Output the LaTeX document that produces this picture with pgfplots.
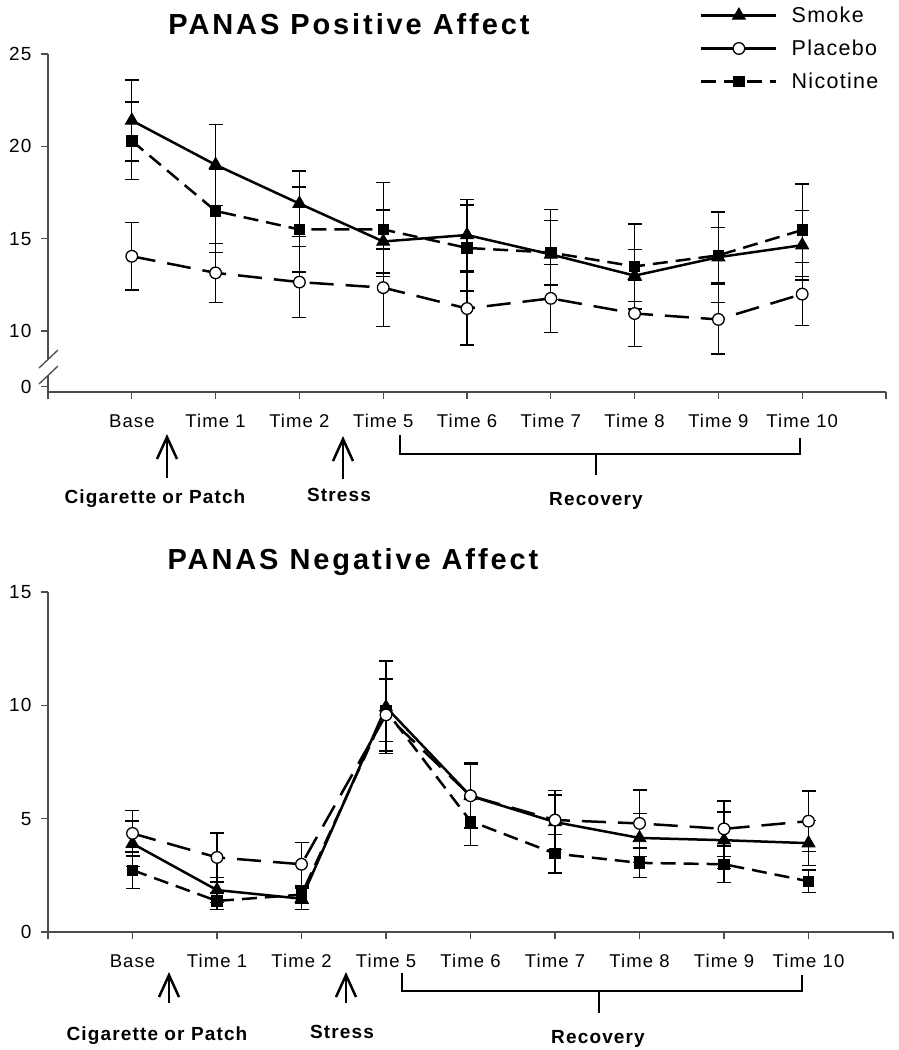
\documentclass[border=0pt]{standalone}
\usepackage{pgfplots}
\pgfplotsset{compat=1.18}
\usepackage{pgfplotstable}
\usepackage{fontspec}
\setmainfont{Liberation Sans}[LetterSpace=6]
\usetikzlibrary{arrows.meta}
\newcommand\fs[1]{\fontsize{#1}{#1}\selectfont}

\pgfplotstableread{
x y e
0 21.4 2.2
1 19.0 2.2
2 16.9 1.77
3 14.85 1.7
4 15.2 1.92
5 14.15 2.45
6 13.0 1.4
7 14.0 2.45
8 14.65 1.88
}\posSmoke
\pgfplotstableread{
x y e
0 14.05 1.82
1 13.15 1.6
2 12.65 1.91
3 12.35 2.1
4 11.22 1.98
5 11.77 1.84
6 10.95 1.8
7 10.63 1.88
8 12.0 1.7
}\posPlacebo
\pgfplotstableread{
x y e
0 20.3 2.1
1 16.5 2.25
2 15.5 2.3
3 15.5 2.55
4 14.5 2.33
5 14.25 1.75
6 13.5 2.3
7 14.1 1.5
8 15.47 2.5
}\posNicotine
\pgfplotstableread{
x y e
0 3.9 1.0
1 1.85 0.55
2 1.47 0.47
3 9.92 2.04
4 6.0 1.4
5 4.85 1.2
6 4.15 1.08
7 4.05 1.24
8 3.92 1.0
}\negSmoke
\pgfplotstableread{
x y e
0 4.35 1.0
1 3.29 1.08
2 2.99 0.96
3 9.58 1.6
4 6.01 1.45
5 4.94 1.3
6 4.79 1.47
7 4.55 1.23
8 4.89 1.33
}\negPlacebo
\pgfplotstableread{
x y e
0 2.73 0.8
1 1.37 0.37
2 1.65 0.4
3 9.77 1.37
4 4.89 1.06
5 3.46 0.85
6 3.05 0.66
7 2.99 0.8
8 2.24 0.5
}\negNicotine

\tikzset{
  smokestyle/.style={black, line width=2.5pt, solid, mark=triangle*, mark size=7.5pt, mark options={solid, fill=black, line width=0.8pt}},
  placebostyle/.style={black, line width=2.5pt, dash pattern=on 24pt off 12pt, mark=*, mark size=5.8pt, mark options={solid, fill=white, line width=1.3pt}},
  nicotinestyle/.style={black, line width=2.5pt, dash pattern=on 15pt off 8pt, mark=square*, mark size=5.2pt, mark options={solid, fill=black, line width=0.8pt}},
  arr/.style={line width=2.5pt, -{Straight Barb[length=22pt,width=20pt]}},
  ann/.style={font=\bfseries\fs{19}, anchor=base},
}
\pgfplotsset{
  common/.style={
    scale only axis,
    xmin=-1, xmax=9,
    axis x line=bottom, axis y line=left,
    axis line style={-, line width=1.4pt, black!70},
    xtick={-1,0,...,9},
    xticklabels={,Base,Time 1,Time 2,Time 5,Time 6,Time 7,Time 8,Time 9,Time 10,},
    tick align=outside, major tick length=7pt,
    tick style={line width=1.3pt, black!70},
    xticklabel style={font=\fs{18.5}, yshift=-12pt},
    yticklabel style={font=\fs{19}, xshift=-6pt},
    /pgf/number format/assume math mode=true,
    clip=false,
    error bars/y dir=both, error bars/y explicit,
    error bars/error bar style={line width=1.3pt, solid, black},
    error bars/error mark options={rotate=90, mark size=7pt, line width=1.3pt, solid, black},
  }
}

\begin{document}
\begin{tikzpicture}
\path[use as bounding box] (0pt,0pt) rectangle (898pt,-1050pt);

% ---------------- top panel ----------------
\begin{axis}[common,
  width=838pt, height=338pt,
  at={(48pt,-392pt)}, anchor=south west,
  ymin=6.7, ymax=25,
  ytick={7,10,15,20,25}, yticklabels={0,10,15,20,25},
  legend style={at={(axis description cs:0.778,1.146)}, anchor=north west,
    draw=none, fill=none, font=\fs{21.5}, row sep=12pt, column sep=12pt, inner sep=0pt,
    nodes={inner sep=2pt}},
  legend cell align=left,
  legend image code/.code={\draw[mark repeat=2,mark phase=2,#1] plot coordinates {(0pt,0pt) (37.5pt,0pt) (75pt,0pt)};},
]
\addlegendimage{smokestyle}
\addlegendentry{Smoke}
\addlegendimage{black, line width=2.5pt, solid, mark=*, mark size=5.8pt, mark options={solid, fill=white, line width=1.3pt}}
\addlegendentry{Placebo}
\addlegendimage{nicotinestyle}
\addlegendentry{Nicotine}
\addplot[nicotinestyle, forget plot] table[x=x, y=y, y error=e] {\posNicotine};
\addplot[smokestyle, forget plot] table[x=x, y=y, y error=e] {\posSmoke};
\addplot[placebostyle, forget plot] table[x=x, y=y, y error=e] {\posPlacebo};
\end{axis}

% axis break
\fill[white] (43pt,-359pt) rectangle (53pt,-375pt);
\draw[line width=1.3pt, black!70] (39pt,-368pt) -- (58pt,-350pt);
\draw[line width=1.3pt, black!70] (39pt,-384pt) -- (58pt,-366pt);

\node[font=\bfseries\fs{29}\addfontfeatures{LetterSpace=10}, anchor=base] at (349pt,-34pt) {PANAS Positive Affect};

\draw[arr] (167pt,-478pt) -- (167pt,-434pt);
\draw[arr] (343pt,-479pt) -- (343pt,-436pt);
\node[ann] at (155pt,-503pt) {Cigarette or Patch};
\node[ann] at (339pt,-501pt) {Stress};
\draw[line width=2.5pt] (400pt,-435pt) -- (400pt,-454pt) -- (800pt,-454pt) -- (800pt,-438pt);
\draw[line width=2.5pt] (596pt,-454pt) -- (596pt,-475pt);
\node[ann] at (596pt,-505pt) {Recovery};

% ---------------- bottom panel ----------------
\begin{axis}[common,
  width=845pt, height=340pt,
  at={(48pt,-932pt)}, anchor=south west,
  ymin=0, ymax=15,
  ytick={0,5,10,15},
]
\addplot[nicotinestyle] table[x=x, y=y, y error=e] {\negNicotine};
\addplot[smokestyle] table[x=x, y=y, y error=e] {\negSmoke};
\addplot[placebostyle] table[x=x, y=y, y error=e] {\negPlacebo};
\end{axis}

\node[font=\bfseries\fs{29}\addfontfeatures{LetterSpace=10}, anchor=base] at (353pt,-569pt) {PANAS Negative Affect};

\draw[arr] (169pt,-1003pt) -- (169pt,-972pt);
\draw[arr] (346pt,-1003pt) -- (346pt,-972pt);
\node[ann] at (157pt,-1040pt) {Cigarette or Patch};
\node[ann] at (342pt,-1038pt) {Stress};
\draw[line width=2.5pt] (402pt,-973pt) -- (402pt,-991pt) -- (802pt,-991pt) -- (802pt,-975pt);
\draw[line width=2.5pt] (599pt,-991pt) -- (599pt,-1013pt);
\node[ann] at (598pt,-1043pt) {Recovery};
\end{tikzpicture}
\end{document}
